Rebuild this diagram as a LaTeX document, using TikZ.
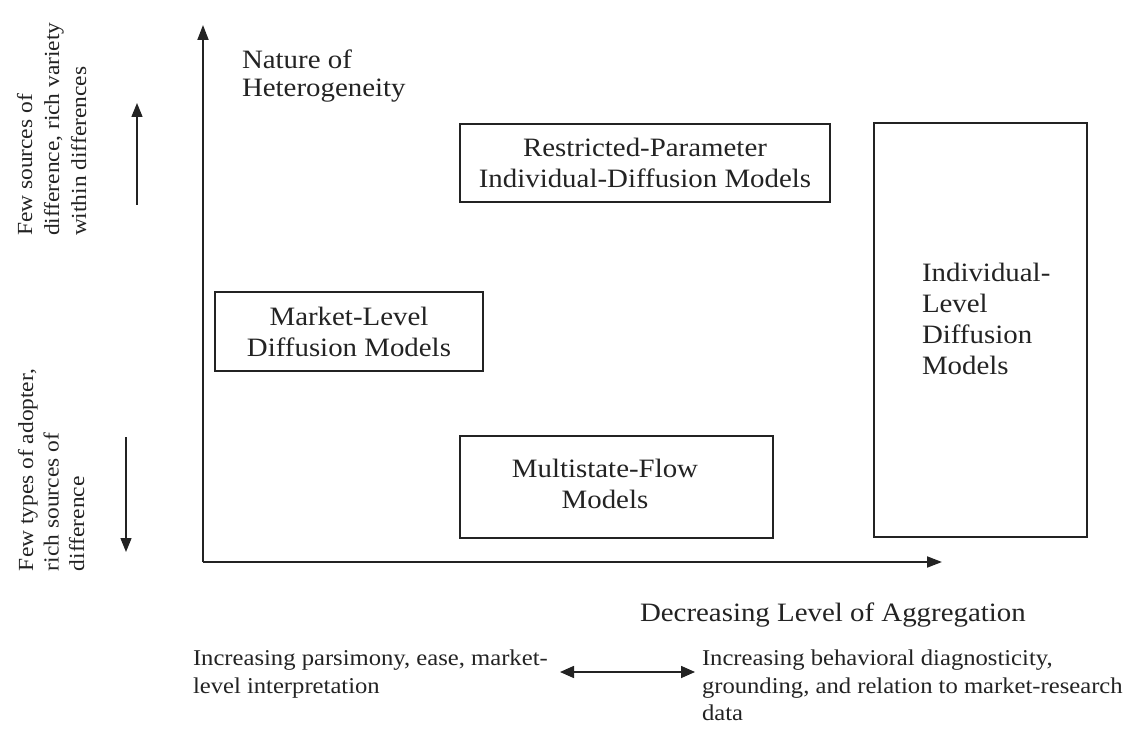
\documentclass[tikz,border=0pt]{standalone}
\usepackage{fontspec}
\setmainfont{Liberation Serif}[FakeStretch=1.09]
\usetikzlibrary{arrows.meta}

\definecolor{ink}{RGB}{35,35,35}

\begin{document}
\begin{tikzpicture}[x=1pt,y=-1pt,
  every node/.style={inner sep=0pt, outer sep=0pt, text=ink},
  modelbox/.style={draw=ink, line width=1.7pt, rectangle},
  boxtext/.style={font=\fontsize{26.5}{31}\selectfont, align=center},
  axislabel/.style={font=\fontsize{26.5}{28}\selectfont, align=left},
  sidelabel/.style={font=\fontsize{21.5}{27}\selectfont, align=left, rotate=90, anchor=north west},
  bottomlabel/.style={font=\fontsize{22.6}{27.5}\selectfont, align=left, anchor=north west},
  axisline/.style={draw=ink, line width=1.8pt, -{Triangle[length=15pt,width=11pt]}},
  hintarrow/.style={draw=ink, line width=1.4pt, -{Triangle[length=14pt,width=11pt]}}
]
\path[use as bounding box, fill=white] (0,0) rectangle (1136,738);

% axes
\coordinate (origin) at (203,562);
\coordinate (ytip) at (203,25);
\coordinate (xtip) at (942,562);
\draw[axisline] (origin) -- (ytip);
\draw[axisline] (origin) -- (xtip);

\node[axislabel, anchor=north west] (nature) at (242,50) {Nature of\\Heterogeneity};
\node[axislabel, anchor=base west, font=\fontsize{26.5}{30}\selectfont] (aggr) at (640,621) {Decreasing Level of Aggregation};

% model boxes
\node[modelbox, minimum width=370pt, minimum height=78pt] (restricted) at (645,163) {};
\node[modelbox, minimum width=268pt, minimum height=79pt] (market) at (349,331.5) {};
\node[modelbox, minimum width=313pt, minimum height=102pt] (multistate) at (616.5,487) {};
\node[modelbox, minimum width=213pt, minimum height=414pt] (individual) at (980.5,330) {};

\node[boxtext] (restrictedtext) at (restricted.center) {Restricted-Parameter\\Individual-Diffusion Models};
\node[boxtext] (markettext) at (market.center) {Market-Level\\Diffusion Models};
\node[boxtext] (multistatetext) at (605,484) {Multistate-Flow\\Models};
\node[boxtext, align=left, anchor=west] (individualtext) at (922,319) {Individual-\\Level\\Diffusion\\Models};

% side hints
\coordinate (upfrom) at (137,205);
\coordinate (upto) at (137,103);
\coordinate (downfrom) at (126,437);
\coordinate (downto) at (126,552);
\draw[hintarrow] (upfrom) -- (upto);
\draw[hintarrow] (downfrom) -- (downto);

\node[sidelabel] (fewsources) at (17,236) {Few sources of\\difference, rich variety\\within differences};
\node[sidelabel, font=\fontsize{21.5}{25.5}\selectfont] (fewtypes) at (18,571) {Few types of adopter,\\rich sources of\\difference};

% bottom trade-off
\node[bottomlabel] (parsimony) at (193,650) {Increasing parsimony, ease, market-\\level interpretation};
\node[bottomlabel] (diagnostic) at (702,650) {Increasing behavioral diagnosticity,\\grounding, and relation to market-research\\data};
\coordinate (tradeleft) at (560,672);
\coordinate (traderight) at (695,672);
\draw[draw=ink, line width=1.6pt, {Triangle[length=14pt,width=12pt]}-{Triangle[length=14pt,width=12pt]}] (tradeleft) -- (traderight);
\end{tikzpicture}
\end{document}
